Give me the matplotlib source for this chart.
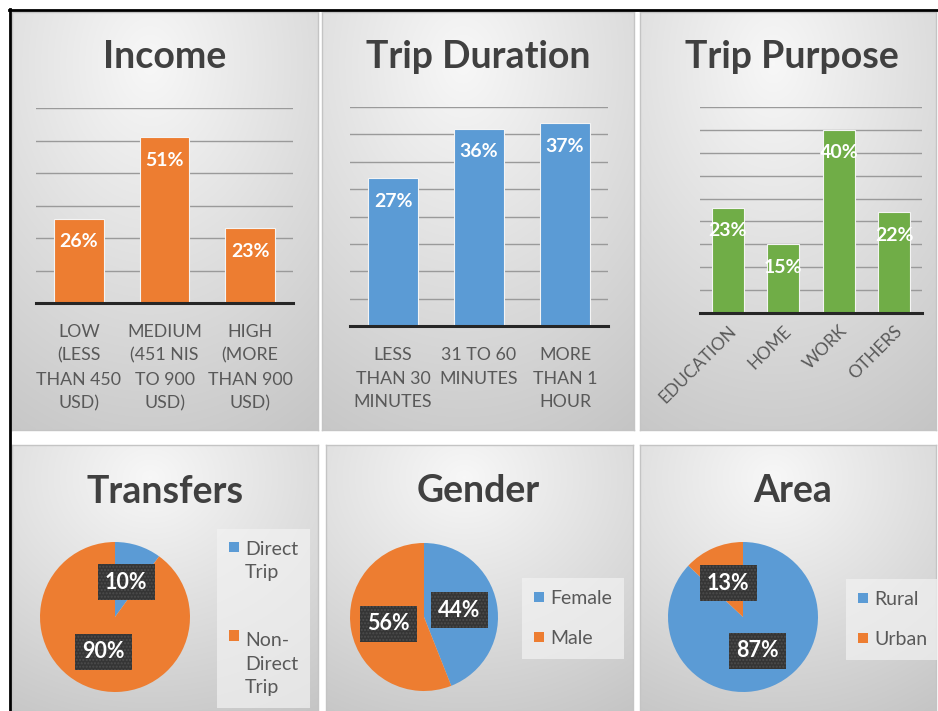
import matplotlib
matplotlib.use("Agg")
import matplotlib.pyplot as plt
import numpy as np
from matplotlib.lines import Line2D
from matplotlib.patches import Rectangle
from matplotlib.legend_handler import HandlerPatch

plt.rcParams['font.family'] = ['Lato', 'DejaVu Sans']

W, H = 938, 711

# Datos
income_cats = ['LOW\n(LESS\nTHAN 450\nUSD)', 'MEDIUM\n(451 NIS\nTO 900\nUSD)', 'HIGH\n(MORE\nTHAN 900\nUSD)']
income_vals = [26, 51, 23]
duration_cats = ['LESS\nTHAN 30\nMINUTES', '31 TO 60\nMINUTES', 'MORE\nTHAN 1\nHOUR']
duration_vals = [27, 36, 37]
purpose_cats = ['EDUCATION', 'HOME', 'WORK', 'OTHERS']
purpose_vals = [23, 15, 40, 22]
transfer_labels = ['Direct\nTrip', 'Non-\nDirect\nTrip']
transfer_vals = [10, 90]
gender_labels = ['Female', 'Male']
gender_vals = [44, 56]
area_labels = ['Rural', 'Urban']
area_vals = [87, 13]

BLUE = '#5B9BD5'
ORANGE = '#ED7D31'
GREEN = '#70AD47'
TITLE_C = '#404040'
TEXT_C = '#595959'


def rect(x0, y0, x1, y1):
    # caja en pixeles (origen arriba a la izquierda) -> fraccion de figura
    return [x0 / W, 1 - y1 / H, (x1 - x0) / W, (y1 - y0) / H]


fig = plt.figure(figsize=(W / 100, H / 100), dpi=100)
fig.patch.set_facecolor('white')


def panel(x0, y0, x1, y1):
    ax = fig.add_axes(rect(x0, y0, x1, y1), zorder=0)
    yy, xx = np.mgrid[0:1:120j, 0:1:120j]
    d = np.sqrt((xx - 0.45) ** 2 + (yy - 0.12) ** 2)
    v = np.clip(0.97 - 0.19 * d, 0, 1)
    ax.imshow(np.dstack([v, v, v]), extent=(0, 1, 0, 1), aspect='auto',
              origin='upper', interpolation='bilinear')
    ax.set_xticks([])
    ax.set_yticks([])
    for s in ax.spines.values():
        s.set_color('#c4c4c4')
        s.set_linewidth(1)


def title(x, y, txt):
    fig.text(x / W, 1 - y / H, txt, ha='center', va='baseline', fontsize=27,
             fontweight='bold', color=TITLE_C)


def bars(box, cats, vals, color, ymax, step, rotate=False):
    ax = fig.add_axes(rect(*box), zorder=2)
    ax.patch.set_alpha(0)
    x = np.arange(len(cats))
    ax.bar(x, vals, width=0.58, color=color, edgecolor='#f4f4f4', linewidth=0.8, zorder=3)
    ax.set_xlim(-0.5, len(cats) - 0.5)
    ax.set_ylim(0, ymax)
    ax.set_yticks(np.arange(step, ymax + 0.01, step))
    ax.yaxis.grid(True, color='#9a9a9a', linewidth=1)
    ax.set_axisbelow(True)
    ax.tick_params(axis='y', left=False, labelleft=False)
    for k in ['top', 'left', 'right']:
        ax.spines[k].set_visible(False)
    ax.spines['bottom'].set_color('#262626')
    ax.spines['bottom'].set_linewidth(2.2)
    ax.spines['bottom'].set_zorder(4)
    ax.set_xticks(x)
    if rotate:
        ax.set_xticklabels(cats, rotation=45, ha='right', rotation_mode='anchor')
        ax.tick_params(axis='x', length=0, pad=7, labelsize=12.5, labelcolor=TEXT_C)
    else:
        ax.set_xticklabels(cats, linespacing=1.6)
        ax.tick_params(axis='x', length=0, pad=15, labelsize=12.8, labelcolor=TEXT_C)
    for xi, v in zip(x, vals):
        ax.annotate(f'{v}%', (xi, v), xytext=(0, -23), textcoords='offset pixels',
                    ha='center', va='center', color='white', fontsize=14,
                    fontweight='bold', zorder=5)
    return ax


class TopSquare(HandlerPatch):
    # cuadrito de leyenda alineado con la primera linea del texto
    def __init__(self, shift):
        super().__init__()
        self.shift = shift

    def create_artists(self, legend, orig_handle, xdescent, ydescent, width, height, fontsize, trans):
        s = 0.52 * fontsize
        p = Rectangle((-xdescent + (width - s) / 2, -ydescent + (height - s) / 2 + self.shift * fontsize),
                      s, s, facecolor=orig_handle.get_facecolor(), edgecolor='none', transform=trans)
        return [p]


def pie(cx, cy, r, vals, labels, leg_xy, spacing):
    ax = fig.add_axes(rect(cx - r, cy - r, cx + r, cy + r), zorder=2)
    wedges, _, autotexts = ax.pie(vals, colors=[BLUE, ORANGE], startangle=90, counterclock=False,
                                  autopct=lambda p: f'{p:.0f}%', pctdistance=0.49,
                                  wedgeprops=dict(edgecolor='none'))
    ax.set_xlim(-1, 1)
    ax.set_ylim(-1, 1)
    for t in autotexts:
        t.set_color('white')
        t.set_fontsize(15.5)
        t.set_fontweight('bold')
        t.set_bbox(dict(boxstyle='square,pad=0.35', facecolor='#353535', edgecolor='#4d4d4d',
                        linewidth=0, hatch='.....'))
    hmap = {w: TopSquare(lab.count('\n') * 0.5 * 1.48) for w, lab in zip(wedges, labels)}
    leg = ax.legend(wedges, labels, loc='upper left',
                    bbox_to_anchor=(leg_xy[0] / W, 1 - leg_xy[1] / H),
                    bbox_transform=fig.transFigure, borderaxespad=0, frameon=True,
                    fancybox=False, fontsize=14, labelcolor=TEXT_C,
                    handlelength=0.55, handleheight=0.55, handletextpad=0.3,
                    labelspacing=spacing, borderpad=0.6, handler_map=hmap)
    for t in leg.get_texts():
        t.set_linespacing(1.48)
    leg.get_frame().set_facecolor('#f2f2f2')
    leg.get_frame().set_alpha(0.7)
    leg.get_frame().set_edgecolor('none')
    return ax


# Paneles
panel(12, 12, 318, 430)
panel(322, 12, 634, 430)
panel(640, 12, 936, 430)
panel(12, 445, 318, 711)
panel(326, 445, 633, 711)
panel(640, 445, 936, 711)

# Graficos de barras
bars((36, 108, 293, 303), income_cats, income_vals, ORANGE, 60, 10)
bars((350, 107, 608, 326), duration_cats, duration_vals, BLUE, 40, 5)
bars((700, 107, 922, 313), purpose_cats, purpose_vals, GREEN, 45, 5, rotate=True)

title(165, 68, 'Income')
title(478, 68, 'Trip Duration')
title(792, 68, 'Trip Purpose')

# Graficos circulares
pie(115, 617, 75, transfer_vals, transfer_labels, (217, 529), 2.6)
pie(424, 617, 74, gender_vals, gender_labels, (522, 578), 1.2)
pie(743, 617, 75, area_vals, area_labels, (846, 579), 1.2)

title(165, 503, 'Transfers')
title(478, 502, 'Gender')
title(793, 502, 'Area')

# Borde exterior
fig.add_artist(Line2D([9 / W, 1], [1 - 9.5 / H, 1 - 9.5 / H], color='black', linewidth=2))
fig.add_artist(Line2D([9.5 / W, 9.5 / W], [0, 1 - 9 / H], color='black', linewidth=2))

plt.savefig('out.png', dpi=100)
plt.close()
